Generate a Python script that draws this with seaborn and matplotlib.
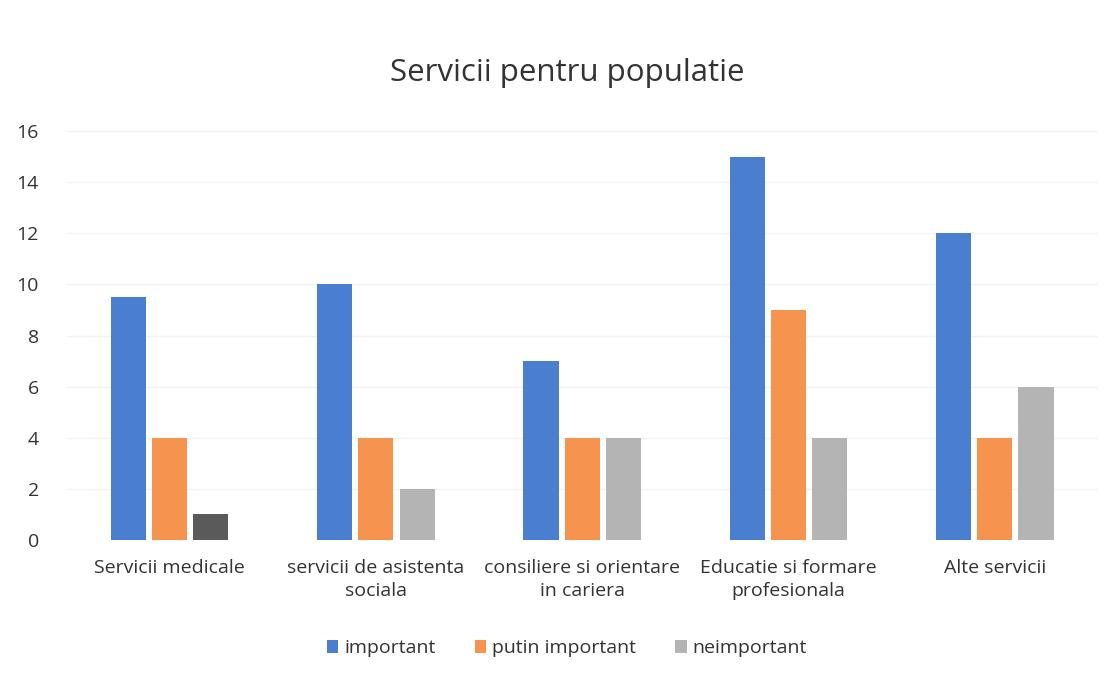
import pandas as pd
import matplotlib.pyplot as plt
import seaborn as sns

# data
categories = ['Servicii medicale', 'servicii de asistenta\nsociala',
              'consiliere si orientare\nin cariera', 'Educatie si formare\nprofesionala',
              'Alte servicii']
important = [9.5, 10, 7, 15, 12]
putin_important = [4, 4, 4, 9, 4]
neimportant = [1, 2, 4, 4, 6]
series = ['important', 'putin important', 'neimportant']

df = pd.DataFrame({
    'categorie': categories * 3,
    'valoare': important + putin_important + neimportant,
    'serie': [s for s in series for _ in categories],
})

sns.set_style('white')
plt.rcParams['font.family'] = ['Open Sans', 'DejaVu Sans']

fig, ax = plt.subplots(figsize=(11.09, 6.8), dpi=100)
fig.subplots_adjust(left=0.06, right=0.99, top=0.807, bottom=0.206)

colors = ['#4a7fd0', '#f6944f', '#b4b4b4']
sns.barplot(data=df, x='categorie', y='valoare', hue='serie', palette=colors,
            width=0.6, gap=0.15, ax=ax, saturation=1, linewidth=0)

# the scanned original shows the first grey bar much darker
ax.containers[2][0].set_facecolor('#5a5a5a')

ax.set_ylim(0, 16)
ax.set_yticks(range(0, 17, 2))
ax.yaxis.grid(True, color='#f3f3f3', linewidth=1)
ax.set_axisbelow(True)
for sp in ax.spines.values():
    sp.set_visible(False)
ax.tick_params(axis='both', length=0, labelsize=14, colors='#333333')
ax.tick_params(axis='y', pad=20)
ax.tick_params(axis='x', pad=14)
for lbl in ax.get_xticklabels():
    lbl.set_linespacing(1.35)
ax.set_xlabel('')
ax.set_ylabel('')
ax.set_title('Servicii pentru populatie', fontsize=22.5, color='#333333', pad=36, x=0.485)

ax.legend(loc='upper center', bbox_to_anchor=(0.485, -0.2), ncol=3, frameon=False,
          fontsize=14, handlelength=0.6, handleheight=0.7, columnspacing=2.0,
          handletextpad=0.3, labelcolor='#333333')

plt.savefig('out.png')
